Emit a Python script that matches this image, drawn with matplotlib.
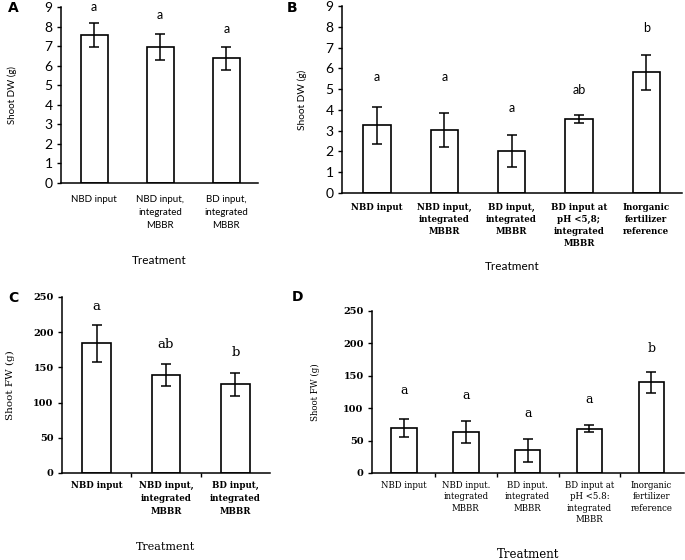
import matplotlib
matplotlib.use("Agg")
import matplotlib.pyplot as plt
from matplotlib.ticker import FixedLocator, NullFormatter

# Treatments
cats_short = ["NBD input", "NBD input,\nintegrated\nMBBR", "BD input,\nintegrated\nMBBR"]
cats_long = cats_short + ["BD input at\npH <5,8;\nintegrated\nMBBR",
                          "Inorganic\nfertilizer\nreference"]
cats_long_d = ["NBD input", "NBD input.\nintegrated\nMBBR", "BD input.\nintegrated\nMBBR",
               "BD input at\npH <5.8:\nintegrated\nMBBR", "Inorganic\nfertilizer\nreference"]

# A: shoot dry weight, 3 treatments
dw_a = [7.55, 6.97, 6.37]
dw_a_err = [0.62, 0.67, 0.60]
let_a = ["a", "a", "a"]
let_a_y = [9.0, 8.6, 7.9]

# B: shoot dry weight, 5 treatments
dw_b = [3.25, 3.03, 2.0, 3.56, 5.8]
dw_b_err = [0.87, 0.84, 0.77, 0.21, 0.83]
let_b = ["a", "a", "a", "ab", "b"]
let_b_y = [5.56, 5.56, 4.07, 4.98, 7.93]

# C: shoot fresh weight, 3 treatments
fw_c = [184, 139, 126]
fw_c_err = [26, 15.5, 16]
let_c = ["a", "ab", "b"]
let_c_y = [236, 183, 171]

# D: shoot fresh weight, 5 treatments
fw_d = [70, 64, 35, 68.5, 140]
fw_d_err = [14, 17, 18, 5.4, 16]
let_d = ["a", "a", "a", "a", "b"]
let_d_y = [127, 120, 92, 113, 192]

W, H = 685, 560
SANS = ["Lato", "DejaVu Sans"]
SERIF = ["DejaVu Serif"]


def px_axes(l, t, r, b):
    return [l / W, 1 - b / H, (r - l) / W, (b - t) / H]


def panel(fig, rect, vals, errs, letters, let_y, cats, ylim, yticks, ylabel,
          xlim, tick_font, tick_size, tick_weight, cat_font, cat_size, cat_weight,
          lab_font, let_font, let_size, bound_ticks, cat_pad, xlab_y, ylab_x,
          cat_ls, ylab_size, xlab_size):
    ax = fig.add_axes(rect)
    x = list(range(len(vals)))
    ax.bar(x, vals, width=0.41, color="white", edgecolor="black", linewidth=1.2, zorder=2)
    ax.errorbar(x, vals, yerr=errs, fmt="none", ecolor="black", elinewidth=1.1,
                capsize=3.6, capthick=1.1, zorder=3)
    for xi, l, ly in zip(x, letters, let_y):
        ax.text(xi, ly, l, ha="center", va="center", family=let_font, fontsize=let_size)
    ax.set_ylim(*ylim)
    ax.set_xlim(*xlim)
    ax.set_yticks(yticks)
    ax.set_yticklabels([str(t) for t in yticks], family=tick_font, fontsize=tick_size,
                       fontweight=tick_weight)
    ax.tick_params(axis="y", direction="out", length=3, width=1, pad=3)
    ax.set_xticks(x)
    ax.set_xticklabels(cats, family=cat_font, fontsize=cat_size, fontweight=cat_weight,
                       linespacing=cat_ls, va="top")
    ax.tick_params(axis="x", length=0, pad=cat_pad)
    if bound_ticks:
        ax.xaxis.set_minor_locator(FixedLocator([i + 0.5 for i in x[:-1]]))
        ax.xaxis.set_minor_formatter(NullFormatter())
        ax.tick_params(axis="x", which="minor", direction="out", length=3, width=1)
    for s in ["top", "right"]:
        ax.spines[s].set_visible(False)
    for s in ["left", "bottom"]:
        ax.spines[s].set_linewidth(1.1)
    ax.set_ylabel(ylabel, family=lab_font, fontsize=ylab_size)
    ax.yaxis.label.set_verticalalignment("center")
    ax.yaxis.set_label_coords(ylab_x, 0.5)
    ax.set_xlabel("Treatment", family=lab_font, fontsize=xlab_size)
    ax.xaxis.label.set_verticalalignment("center")
    ax.xaxis.set_label_coords(0.5, xlab_y)
    return ax


fig = plt.figure(figsize=(W / 100, H / 100), dpi=100)

# A
r = px_axes(61, 7, 258, 183)
panel(fig, r, dw_a, dw_a_err, let_a, let_a_y, cats_short, (0, 9), list(range(10)),
      "Shoot DW (g)", (-0.5, 2.48), SANS, 10, "normal", SANS, 7, "normal",
      SANS, SANS, 9, False, 9, -(260 - 183) / 176, -(61 - 12) / 197,
      1.5, 7, 8.5)

# B
r = px_axes(342, 6, 682, 193)
panel(fig, r, dw_b, dw_b_err, let_b, let_b_y, cats_long, (0, 9), list(range(10)),
      "Shoot DW (g)", (-0.52, 4.53), SANS, 10, "normal", SERIF, 6.2, "bold",
      SANS, SANS, 9, False, 7, -(267 - 193) / 187, -(342 - 302) / 340,
      1.45, 7.3, 8.5)

# C
r = px_axes(62, 297, 270, 473)
panel(fig, r, fw_c, fw_c_err, let_c, let_c_y, cats_short, (0, 250),
      list(range(0, 251, 50)), "Shoot FW (g)", (-0.5, 2.5), SERIF, 7, "bold",
      SERIF, 6.2, "bold", SERIF, SERIF, 9.5, True, 6, -(547 - 473) / 176,
      -(62 - 10) / 208, 1.55, 7.5, 8)

# D
r = px_axes(372, 311, 684, 473)
panel(fig, r, fw_d, fw_d_err, let_d, let_d_y, cats_long_d, (0, 250),
      list(range(0, 251, 50)), "Shoot FW (g)", (-0.52, 4.53), SERIF, 7, "bold",
      SERIF, 6.2, "normal", SERIF, SERIF, 9, True, 6, -(555 - 473) / 162,
      -(372 - 315) / 312, 1.3, 6.2, 8.5)

for lab, x, y in [("A", 8, 8), ("B", 287, 8), ("C", 8, 298), ("D", 292, 297)]:
    fig.text(x / W, 1 - y / H, lab, family="DejaVu Sans", fontweight="bold",
             fontsize=10, ha="left", va="center")

fig.savefig("out.png", dpi=100)
